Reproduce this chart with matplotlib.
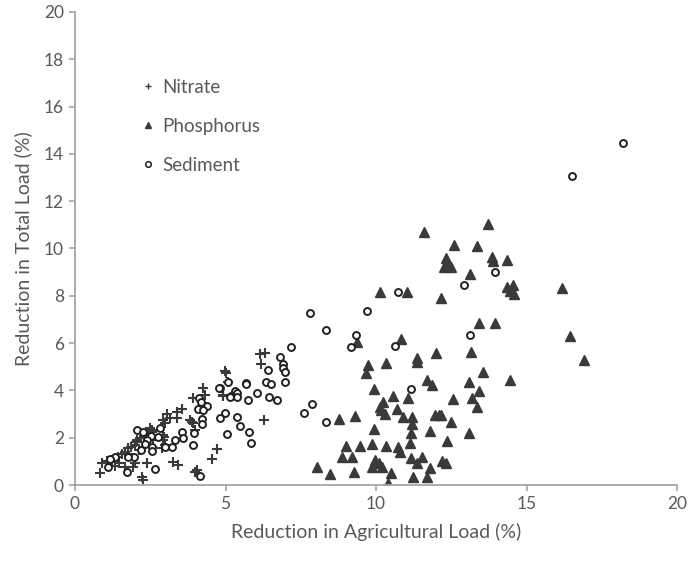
import matplotlib
matplotlib.use("Agg")
import matplotlib.pyplot as plt
from matplotlib.lines import Line2D

plt.rcParams['font.family'] = ['Lato', 'DejaVu Sans']

nitrate_x = [0.83,0.90,1.06,1.23,1.33,1.66,1.56,1.66,1.76,1.99,2.06,1.99,1.93,2.39,2.23,2.26,2.49,2.56,2.96,2.89,
             3.06,2.92,3.39,3.55,3.39,3.82,3.89,3.26,3.42,3.99,4.55,4.72,3.92,4.25,4.32,4.92,4.98,5.08,4.92,6.15,
             6.31,6.18,6.28,5.02,3.16,2.99,3.92,3.99,2.99,2.92,4.05,2.56,2.59,2.92,1.43,1.86,2.03,2.19,2.29,2.36,
             1.76,2.13,1.46]
nitrate_y = [0.51,0.93,1.01,1.06,0.80,0.76,1.31,1.40,1.56,1.69,1.90,0.93,0.76,0.93,0.34,0.21,2.41,2.24,2.03,1.56,
             3.00,2.75,3.09,3.21,2.83,2.75,2.66,0.97,0.85,0.55,1.10,1.52,3.68,4.10,3.81,3.81,4.82,4.36,3.76,5.54,
             5.58,5.12,2.75,4.75,2.83,2.62,2.62,2.33,1.69,1.90,0.63,2.33,1.90,2.11,1.18,1.61,1.82,1.99,2.07,2.16,
             1.30,1.50,0.95]

phos_x = [11.59,12.33,12.26,12.36,12.49,10.13,11.03,12.16,10.83,13.72,12.59,13.36,13.85,13.89,14.35,13.12,14.35,
          14.55,14.45,14.58,16.18,13.42,13.95,16.44,13.16,16.91,13.56,13.09,14.45,13.42,12.56,13.19,13.36,12.16,
          12.49,13.09,12.36,12.19,12.33,9.37,11.36,11.36,11.99,9.73,9.67,10.33,11.69,11.86,9.93,10.56,11.06,10.23,
          10.13,10.17,10.70,8.77,9.30,10.30,10.90,11.20,11.20,11.96,12.09,11.79,9.93,11.16,9.00,9.47,9.87,10.33,
          10.73,10.80,11.13,8.87,9.20,9.97,10.10,9.87,10.20,11.16,11.53,11.36,8.04,8.47,9.27,10.50,11.23,11.69,
          11.79,10.40]
phos_y = [10.68,9.60,9.22,9.26,9.22,8.16,8.16,7.91,6.17,11.04,10.15,10.11,9.64,9.47,9.51,8.92,8.37,
          8.46,8.20,8.08,8.33,6.85,6.85,6.30,5.62,5.29,4.78,4.36,4.44,3.97,3.64,3.68,3.30,2.96,
          2.66,2.20,1.86,1.01,0.93,6.05,5.37,5.20,5.58,5.07,4.74,5.16,4.44,4.23,4.06,3.76,3.68,3.51,
          3.30,3.17,3.21,2.79,2.92,3.00,2.88,2.88,2.58,2.96,2.96,2.28,2.37,2.20,1.65,1.65,1.73,1.65,
          1.61,1.40,1.78,1.18,1.18,1.06,0.93,0.76,0.76,1.14,1.18,0.93,0.76,0.47,0.55,0.51,0.34,0.34,
          0.72,0.08]

sed_x = [10.73,7.81,9.70,8.34,9.34,13.95,12.92,13.12,18.20,16.51,9.17,10.63,11.16,7.87,7.61,8.34,
         7.18,6.81,6.91,6.91,6.98,6.41,6.98,6.35,6.51,5.68,5.68,5.08,4.82,5.32,5.38,5.18,5.38,6.05,5.75,
         6.45,6.71,4.98,4.82,5.38,5.48,5.05,5.78,5.85,4.78,5.15,4.12,4.19,4.39,4.09,4.25,4.22,4.22,3.95,
         3.55,3.59,3.32,3.22,2.99,3.92,2.82,2.52,2.39,2.33,2.56,2.19,2.56,1.96,1.76,1.33,1.16,1.10,1.73,
         2.66,4.15,2.06,2.26,2.76]
sed_y = [8.16,7.27,7.36,6.55,6.34,9.00,8.46,6.34,14.46,13.07,5.84,5.88,4.06,3.42,3.04,2.66,
         5.84,5.41,5.12,4.95,4.78,4.86,4.36,4.36,4.27,4.31,4.27,4.36,4.10,3.97,3.89,3.76,3.72,3.89,3.59,
         3.72,3.59,3.04,2.83,2.88,2.49,2.16,2.24,1.78,4.10,3.72,3.68,3.51,3.34,3.21,3.17,2.79,2.58,2.20,
         2.24,1.99,1.90,1.61,1.61,1.69,2.41,2.07,1.90,1.73,1.61,1.48,1.44,1.18,1.18,1.18,1.10,0.76,0.55,
         0.68,0.38,2.33,2.24,2.03]

series_labels = ["Nitrate", "Phosphorus", "Sediment"]
x_ticks = [0, 5, 10, 15, 20]
y_ticks = [0, 2, 4, 6, 8, 10, 12, 14, 16, 18, 20]

fig = plt.figure(figsize=(6.89, 5.63), dpi=100)
ax = fig.add_axes([75/689, 78/563, (677-75)/689, (485-12)/563])

dark = '#3a3a3a'
ax.plot(nitrate_x, nitrate_y, linestyle='none', marker='+', ms=7.5, mew=1.5, color=dark)
ax.plot(phos_x, phos_y, linestyle='none', marker='^', ms=7, color=dark, mec=dark)
ax.plot(sed_x, sed_y, linestyle='none', marker='o', ms=5, mew=1.4, mfc='white', mec='#222222')

ax.set_xlim(0, 20)
ax.set_ylim(0, 20)
ax.set_xticks(x_ticks)
ax.set_yticks(y_ticks)
for s in ['top', 'right']:
    ax.spines[s].set_visible(False)
for s in ['left', 'bottom']:
    ax.spines[s].set_color('#a6a6a6')
    ax.spines[s].set_linewidth(1.3)
ax.tick_params(axis='both', direction='out', length=4, width=1.2, color='#a6a6a6',
               labelcolor='#595959', labelsize=12.5, pad=4)

ax.set_xlabel("Reduction in Agricultural Load (%)", fontsize=14, color='#595959', labelpad=8)
ax.set_ylabel("Reduction in Total Load (%)", fontsize=14, color='#595959', labelpad=8)

handles = [
    Line2D([], [], linestyle='none', marker='+', ms=5, mew=1.0, color=dark),
    Line2D([], [], linestyle='none', marker='^', ms=5, color=dark),
    Line2D([], [], linestyle='none', marker='o', ms=4, mew=1.1, mfc='white', mec='#222222'),
]
ax.legend(handles, series_labels, loc='upper left', bbox_to_anchor=(0.08, 0.895), frameon=False,
          fontsize=13.5, labelcolor='#595959', labelspacing=1.18, handlelength=0.8, handletextpad=0.4)

fig.savefig("out.png", dpi=100)
